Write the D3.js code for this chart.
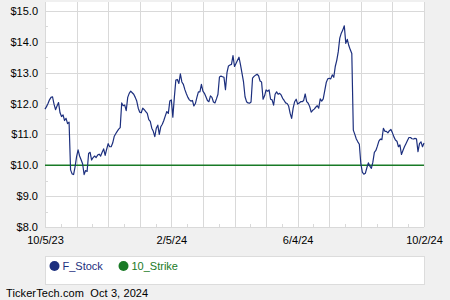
<!DOCTYPE html>
<html>
<head>
<meta charset="utf-8">
<title>F_Stock</title>
<script src="https://d3js.org/d3.v7.min.js"></script>
<style type="text/css">
	body{ margin: 0; background: #f0f0f0; }
	svg{ display: block; font-family: "Liberation Sans", Arial, sans-serif; }
</style>
</head>
<body>
<script type="text/javascript">
	// daily closes 10/5/23 .. 10/2/24, one row per month gridline
	var stock = [
		11.82,11.90,12.00,12.12,12.20,12.22,11.98,11.80,11.92,12.03,11.70,11.58,11.63,11.45,11.52,11.35,11.40,9.85,9.72,9.70,9.95,
		10.28,10.50,10.30,10.18,10.05,9.70,9.83,9.80,10.38,10.42,10.17,10.25,10.30,10.25,10.33,10.36,10.30,10.42,10.53,10.32,10.52,
		10.70,10.60,10.60,10.72,10.93,11.02,11.10,11.17,11.22,12.02,11.93,11.95,11.77,12.20,12.33,12.40,12.35,12.30,12.20,12.08,11.85,
		11.72,11.70,11.85,11.80,11.74,11.68,11.48,11.42,11.20,11.10,10.93,11.20,11.30,11.00,11.25,11.33,11.45,11.60,11.74,11.68,12.08,
		12.12,11.56,12.20,12.76,12.78,12.65,12.96,12.70,12.62,12.45,12.32,12.20,12.12,12.08,12.10,11.92,12.00,12.20,12.38,12.38,12.62,
		12.40,12.33,12.22,12.10,12.06,12.25,12.20,12.05,12.02,12.15,12.30,12.86,12.89,12.87,12.85,12.45,13.00,13.22,13.25,13.27,13.55,
		13.20,13.30,13.40,13.50,13.25,12.98,12.70,12.22,12.06,12.02,12.01,12.05,12.82,12.88,12.92,12.95,12.90,12.73,12.70,12.14,12.25,
		12.44,12.40,12.44,12.14,12.12,11.95,12.30,12.38,12.30,12.33,12.28,12.17,12.10,12.02,12.00,11.92,11.68,11.52,11.85,12.06,12.14,
		11.98,12.02,12.06,12.06,12.10,12.31,12.06,12.01,11.90,11.72,11.78,11.82,11.88,11.93,11.85,12.15,12.08,12.15,12.42,12.68,12.80,
		12.82,12.80,12.93,12.85,13.20,13.40,13.68,14.12,14.28,14.38,14.52,13.95,14.08,13.88,13.74,13.62,11.14,11.00,10.85,10.76,10.68,
		10.05,9.78,9.71,9.74,9.92,10.08,9.97,9.90,10.10,10.42,10.48,10.62,10.78,10.85,10.83,11.20,11.10,11.10,11.05,11.12,11.16,
		11.05,10.92,10.82,10.78,10.60,10.66,10.35,10.48,10.60,10.70,10.80,10.90,10.90,10.86,10.85,10.87,10.86,10.44,10.70,10.76,10.60,10.72
	]
	var strike = 10
	var yTicks = [8,9,10,11,12,13,14,15]
	var xLabels = ["10/5/23","2/5/24","6/4/24","10/2/24"]
	var seriesNames = ["F_Stock","10_Strike"]
	var seriesColors = ["#1c2f7e","#197a26"]

	var W = 450, H = 300
	var plotL = 45, plotR = 424, plotT = 2, plotB = 227
	var last = stock.length - 1

	var svg = d3.select("body").append("svg").attr("width",W).attr("height",H)
	svg.append("rect").attr("width",W).attr("height",H).attr("fill","#f0f0f0")
	svg.append("rect").attr("x",plotL).attr("y",plotT).attr("width",plotR-plotL).attr("height",plotB-plotT).attr("fill","#fff")

	var x = d3.scaleLinear().domain([0,last]).range([plotL,plotR])
	var y = d3.scaleLinear().domain([8,15.29]).range([plotB,plotT])

	// month gridlines: 12 even steps, labels every 4th
	var monthIdx = d3.range(13).map(function(i){ return i*last/12 })
	var halfIdx = d3.range(12).map(function(i){ return (i+0.5)*last/12 })

	var grid = svg.append("g").attr("stroke","#d9d9d9").attr("stroke-width",1)
	grid.selectAll(".h").data(yTicks).enter().append("line")
		.attr("x1",plotL).attr("x2",plotR)
		.attr("y1",function(d){ return Math.round(y(d))+0.5 }).attr("y2",function(d){ return Math.round(y(d))+0.5 })
	grid.selectAll(".v").data(monthIdx).enter().append("line")
		.attr("x1",function(d){ return Math.round(x(d))+0.5 }).attr("x2",function(d){ return Math.round(x(d))+0.5 })
		.attr("y1",plotT).attr("y2",plotB)
	// minor ticks
	grid.selectAll(".mh").data(d3.range(8.5,15,1)).enter().append("line")
		.attr("x1",plotL).attr("x2",plotL+3)
		.attr("y1",function(d){ return Math.round(y(d))+0.5 }).attr("y2",function(d){ return Math.round(y(d))+0.5 })
	grid.selectAll(".mv").data(halfIdx).enter().append("line")
		.attr("x1",function(d){ return Math.round(x(d))+0.5 }).attr("x2",function(d){ return Math.round(x(d))+0.5 })
		.attr("y1",plotB-3).attr("y2",plotB)

	// y axis labels
	var yAxis = svg.append("g").attr("transform","translate("+(plotL-7)+",0)")
		.call(d3.axisLeft(y).tickValues(yTicks).tickSize(0).tickPadding(0).tickFormat(function(d){ return "$"+d.toFixed(1) }))
	yAxis.select(".domain").remove()
	yAxis.selectAll("text").attr("font-size",11).attr("font-family","Liberation Sans, Arial, sans-serif").attr("fill","#000")

	// x axis labels
	var xAxis = svg.append("g").attr("transform","translate(0,"+(plotB+9)+")")
		.call(d3.axisBottom(x).tickValues([0,4,8,12].map(function(i){ return monthIdx[i] })).tickSize(0).tickPadding(0)
			.tickFormat(function(d,i){ return xLabels[i] }))
	xAxis.select(".domain").remove()
	xAxis.selectAll("text").attr("font-size",11).attr("font-family","Liberation Sans, Arial, sans-serif").attr("fill","#000")

	// strike line
	svg.append("line").attr("x1",plotL).attr("x2",plotR)
		.attr("y1",y(strike)).attr("y2",y(strike))
		.attr("stroke",seriesColors[1]).attr("stroke-width",1.5)

	// stock line
	var line = d3.line().x(function(d,i){ return x(i) }).y(function(d){ return y(d) })
	svg.append("path").datum(stock).attr("d",line)
		.attr("fill","none").attr("stroke",seriesColors[0]).attr("stroke-width",1.2).attr("stroke-linejoin","round")

	// legend
	svg.append("rect").attr("x",plotL+0.5).attr("y",256.5).attr("width",plotR-plotL).attr("height",28)
		.attr("fill","#fff").attr("stroke","#dcdcdc")
	var legX = [54.5, 123.5]
	var leg = svg.selectAll(".leg").data(seriesNames).enter().append("g")
		.attr("transform",function(d,i){ return "translate("+legX[i]+",266)" })
	leg.append("circle").attr("r",5).attr("fill",function(d,i){ return seriesColors[i] })
	leg.append("text").attr("x",8).attr("y",4).attr("font-size",11)
		.attr("fill",function(d,i){ return seriesColors[i] }).text(function(d){ return d })

	// footer
	svg.append("text").attr("x",6).attr("y",297).attr("font-size",11).attr("letter-spacing","0.1px")
		.attr("fill","#000").text("TickerTech.com  Oct 3, 2024").style("white-space","pre")
</script>
</body>
</html>
